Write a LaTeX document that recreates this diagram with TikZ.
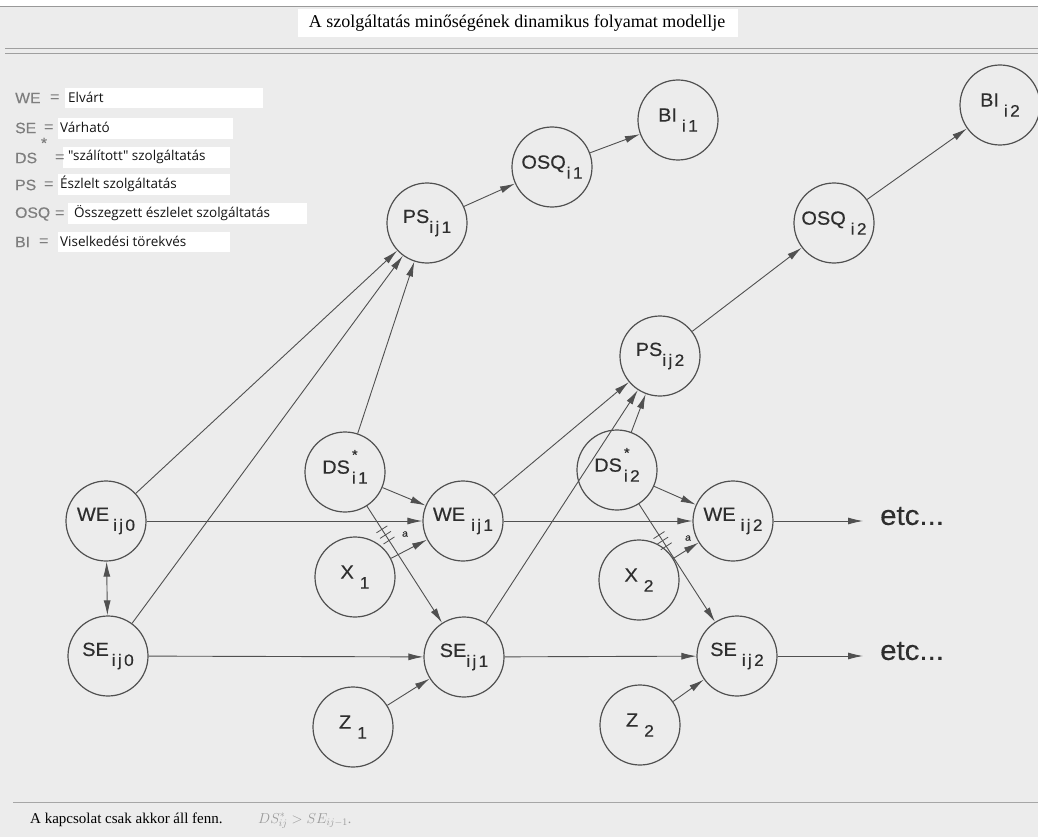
\documentclass[tikz,border=0pt]{standalone}
\usepackage{fontspec}
\usetikzlibrary{arrows.meta,calc}
\setmainfont{Liberation Serif}
\newfontfamily\nodefont[FakeStretch=1.05,FakeBold=0.35]{Liberation Sans}
\newfontfamily\subfont[FakeStretch=1.05,FakeBold=0.35,LetterSpace=14]{Liberation Sans}
\newfontfamily\keyfont[FakeStretch=1.05,FakeBold=0.3]{Liberation Sans}
\newfontfamily\legfont{Open Sans}
\definecolor{paper}{HTML}{ECECEC}
\definecolor{ink}{HTML}{2E2E2E}
\definecolor{wire}{HTML}{505050}
\definecolor{legkey}{HTML}{7E7E7E}

% circle label: main letters with a lowered index
\newcommand{\nlab}[3][0pt]{{\fontsize{19}{19}\selectfont #2\hspace{#1}\raisebox{-10pt}{\subfont\fontsize{16.5}{16.5}\selectfont #3}}}
% same, with a star above the start of the index
\newcommand{\nlabstar}[2]{{\fontsize{19}{19}\selectfont #1\hspace{2pt}\rlap{\smash{\raisebox{14pt}{\fontsize{14}{14}\selectfont *}}}\raisebox{-10pt}{\subfont\fontsize{16.5}{16.5}\selectfont #2}}}

\begin{document}
\begin{tikzpicture}[x=1pt,y=-1pt,
  state/.style={circle,draw=wire,line width=1.2pt,minimum size=80pt,inner sep=0pt,font=\nodefont,text=ink},
  arr/.style={draw=wire,line width=0.9pt,-{Latex[length=15pt,width=7pt]}},
  dblarr/.style={draw=wire,line width=0.9pt,{Latex[length=15pt,width=7pt]}-{Latex[length=15pt,width=7pt]}},
  tickmark/.style={draw=wire,line width=0.8pt},
  etcnode/.style={font=\nodefont\fontsize{28}{28}\selectfont,text=ink,inner sep=0pt,anchor=west},
  legkeyfont/.style={font=\keyfont\fontsize{15}{15}\selectfont,text=legkey,inner sep=0pt},
  legtext/.style={font=\legfont\fontsize{13.5}{13.5}\selectfont,text=black!92,inner sep=0pt,anchor=west},
  smalla/.style={font=\nodefont\fontsize{10}{10}\selectfont,text=ink,inner sep=0pt}]

% paper and rules
\useasboundingbox (0,0) rectangle (1038,837);
\fill[paper] (0,0) rectangle (1038,837);
\fill[white] (0,0) rectangle (1038,6);
\draw[gray!80,line width=1pt] (0,7) -- (1038,7);
\draw[gray!75,line width=1pt] (5,49) -- (1038,49);
\draw[gray!75,line width=1pt] (5,53.5) -- (1038,53.5);
\draw[gray!70,line width=0.8pt] (13,802) -- (1038,802);

% title
\fill[white] (298,9) rectangle (738,37);
\node[inner sep=0pt] (title) at (517,23) {\fontsize{18}{18}\selectfont A szolgáltatás minőségének dinamikus folyamat modellje};

% legend
\fill[white] (65,88) rectangle (263,108);
\fill[white] (58,118) rectangle (233,139);
\fill[white] (63,147) rectangle (230,168);
\fill[white] (58,174) rectangle (230,195);
\fill[white] (68,203) rectangle (307,224);
\fill[white] (58,232) rectangle (230,252);

\node[legkeyfont,anchor=west] (kWE) at (15,98) {WE};
\node[legkeyfont,anchor=west] (kSE) at (15,128) {SE};
\node[legkeyfont,anchor=west] (kDS) at (15,158) {DS};
\node[legkeyfont] (kstar) at (44,143) {*};
\node[legkeyfont,anchor=west] (kPS) at (15,185) {PS};
\node[legkeyfont,anchor=west] (kOSQ) at (15,214) {OSQ};
\node[legkeyfont,anchor=west] (kBI) at (15,242) {BI};

\node[legkeyfont,anchor=west] (e1) at (50,98) {=};
\node[legkeyfont,anchor=west] (e2) at (44,128) {=};
\node[legkeyfont,anchor=west] (e3) at (55,158) {=};
\node[legkeyfont,anchor=west] (e4) at (44,185) {=};
\node[legkeyfont,anchor=west] (e5) at (55,214) {=};
\node[legkeyfont,anchor=west] (e6) at (39,242) {=};

\node[legtext] (t1) at (68,97) {Elvárt};
\node[legtext] (t2) at (60,127) {Várható};
\node[legtext] (t3) at (68,157) {"szálított" szolgáltatás};
\node[legtext] (t4) at (60,184) {Észlelt szolgáltatás};
\node[legtext] (t5) at (74,213) {Összegzett észlelet szolgáltatás};
\node[legtext] (t6) at (60,241) {Viselkedési törekvés};

% states
\node[state] (WEij0) at (106,521) {\nlab[4pt]{WE}{ij0}};
\node[state] (SEij0) at (108,656) {\nlab[3pt]{SE}{ij0}};
\node[state] (DSi1)  at (345,472) {\nlabstar{DS}{i1}};
\node[state] (X1)    at (355,577) {\nlab[6pt]{X}{1}};
\node[state] (Z1)    at (353,727) {\nlab[6pt]{Z}{1}};
\node[state] (WEij1) at (463,521) {\nlab[6pt]{WE}{ij1}};
\node[state] (SEij1) at (464,657) {\nlab{SE}{ij1}};
\node[state] (PSij1) at (427,223) {\nlab{PS}{ij1}};
\node[state] (OSQi1) at (552,167) {\nlab[1pt]{OSQ}{i1}};
\node[state] (BIi1)  at (678,120) {\nlab[5pt]{BI}{i1}};
\node[state] (DSi2)  at (617,470) {\nlabstar{DS}{i2}};
\node[state] (X2)    at (639,580) {\nlab[6pt]{X}{2}};
\node[state] (Z2)    at (640,725) {\nlab[6pt]{Z}{2}};
\node[state] (WEij2) at (733,521) {\nlab[5pt]{WE}{ij2}};
\node[state] (SEij2) at (737,656) {\nlab[5pt]{SE}{ij2}};
\node[state] (PSij2) at (660,356) {\nlab{PS}{ij2}};
\node[state] (OSQi2) at (834,223) {\nlab[5pt]{OSQ}{i2}};
\node[state] (BIi2)  at (1000,105) {\nlab[5pt]{BI}{i2}};

\node[etcnode] (etc1) at (880,516) {etc...};
\node[etcnode] (etc2) at (880,651) {etc...};

% first period
\draw[dblarr] (WEij0) -- (SEij0);
\draw[arr] (WEij0) -- (PSij1);
\draw[arr] (SEij0) -- (PSij1);
\draw[arr] (DSi1) -- (PSij1);
\draw[arr] (WEij0) -- (WEij1);
\draw[arr] (SEij0) -- (SEij1);
\draw[arr] (DSi1) -- (WEij1);
\draw[arr] (DSi1) -- (SEij1);
\draw[arr] (X1) -- (WEij1);
\draw[arr] (Z1) -- (SEij1);
\draw[arr] (PSij1) -- (OSQi1);
\draw[arr] (OSQi1) -- (BIi1);

% second period
\draw[arr] (WEij1) -- (PSij2);
\draw[arr] (SEij1) -- (PSij2);
\draw[arr] (DSi2) -- (PSij2);
\draw[arr] (WEij1) -- (WEij2);
\draw[arr] (SEij1) -- (SEij2);
\draw[arr] (DSi2) -- (WEij2);
\draw[arr] (DSi2) -- (SEij2);
\draw[arr] (X2) -- (WEij2);
\draw[arr] (Z2) -- (SEij2);
\draw[arr] (PSij2) -- (OSQi2);
\draw[arr] (OSQi2) -- (BIi2);

% continuation
\draw[arr,shorten >=17pt] (WEij2) -- (WEij2 -| etc1.west);
\draw[arr,shorten >=17pt] (SEij2) -- (SEij2 -| etc2.west);

% hatch marks with the "a" note on the DS -> SE links
\foreach \p in {0.31,0.34,0.37}{
  \coordinate (h) at ($(DSi1)!\p!(SEij1)$);
  \draw[tickmark] ($(h)!6.5pt!90:(SEij1)$) -- ($(h)!6.5pt!-90:(SEij1)$);
}
\node[smalla] (a1) at (405,534) {a};
\foreach \p in {0.35,0.38,0.41}{
  \coordinate (h) at ($(DSi2)!\p!(SEij2)$);
  \draw[tickmark] ($(h)!6.5pt!90:(SEij2)$) -- ($(h)!6.5pt!-90:(SEij2)$);
}
\node[smalla] (a2) at (688,538) {a};

% footnote
\node[inner sep=0pt,anchor=base west] (foot) at (30,823) {\fontsize{15}{15}\selectfont A kapcsolat csak akkor áll fenn.};
\node[inner sep=0pt,anchor=base west,text=gray!80] (cond) at (258,823) {\fontsize{14}{14}\selectfont $DS^{*}_{ij} > SE_{ij-1}$.};
\end{tikzpicture}
\end{document}
